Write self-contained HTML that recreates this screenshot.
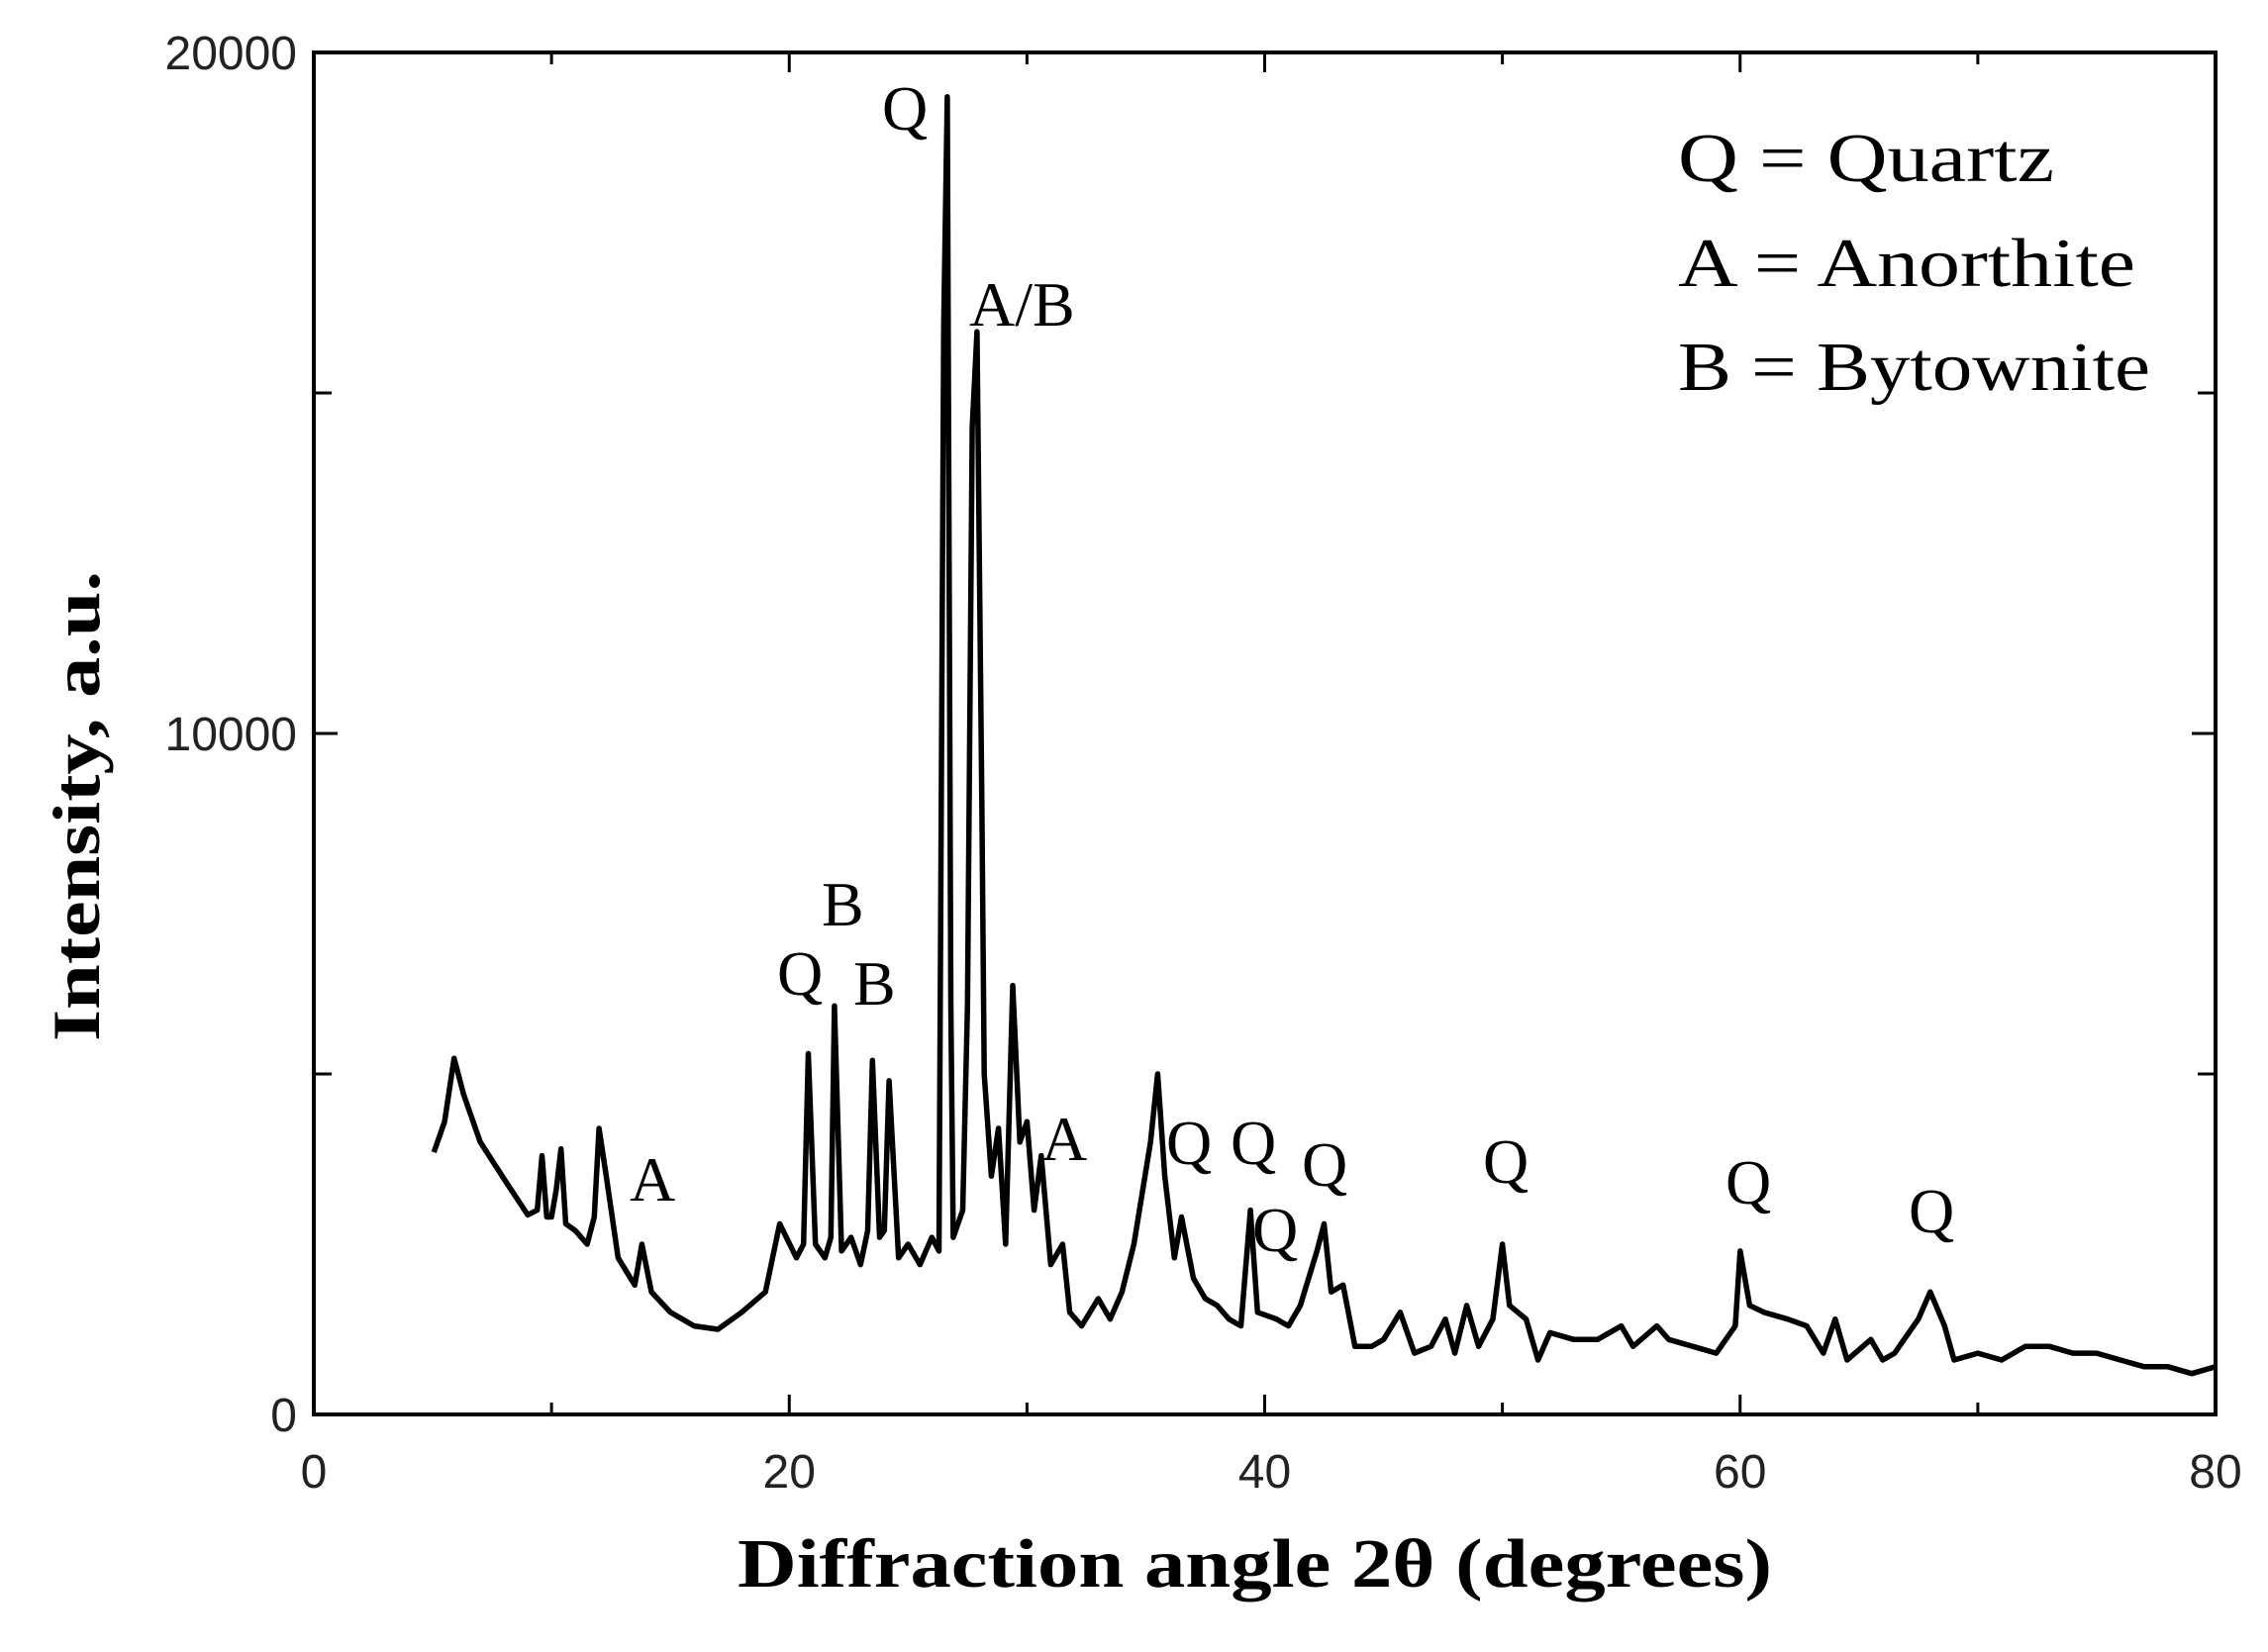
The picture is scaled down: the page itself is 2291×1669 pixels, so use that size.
<!DOCTYPE html>
<html><head><meta charset="utf-8"><style>
html,body{margin:0;padding:0;background:#fff;}
svg{display:block;}
</style></head><body>
<svg id="chart" width="2291" height="1669" xmlns="http://www.w3.org/2000/svg"></svg>
<script>
const angles=[5.05,5.5,5.9,6.3,7,8,9,9.4,9.6,9.8,10,10.2,10.4,10.6,11,11.5,11.8,12,12.3,12.8,13.5,13.8,14.2,15,16,17,18,19,19.6,20.3,20.6,20.8,21.1,21.5,21.75,21.9,22.2,22.6,23,23.3,23.5,23.8,24.0,24.2,24.6,25,25.5,26.0,26.3,26.5,26.65,26.8,26.9,27.3,27.5,27.7,27.9,28.1,28.2,28.5,28.8,29.1,29.4,29.7,30,30.3,30.6,31,31.5,31.8,32.3,33,33.5,34,34.5,35.2,35.5,35.8,36.2,36.5,37,37.5,38,38.5,39,39.4,39.7,40.5,41,41.5,42.2,42.5,42.8,43.3,43.8,44.5,45,45.7,46.3,47,47.6,48,48.5,49,49.6,50,50.3,51,51.5,52,53,54,55,55.5,56.5,57,58,59,59.8,60,60.4,61,62,62.8,63.5,64,64.5,65.5,66,66.5,67.5,68,68.6,69,70,71,72,73,74,75,76,77,78,79,80];
const intens=[3850,4300,5230,4700,4000,3460,2930,3000,3800,2900,2900,3300,3900,2800,2700,2500,2900,4200,3500,2300,1900,2500,1800,1500,1300,1250,1500,1800,2800,2300,2500,5300,2500,2300,2600,6000,2400,2600,2200,2700,5200,2600,2700,4900,2300,2500,2200,2600,2400,16000,19350,6000,2600,3000,6000,14500,15900,9000,5000,3500,4200,2500,6300,4000,4300,3000,3800,2200,2500,1500,1300,1700,1400,1800,2500,4000,5000,3500,2300,2900,2000,1700,1600,1400,1300,3000,1500,1400,1300,1600,2400,2800,1800,1900,1000,1000,1100,1500,900,1000,1400,900,1600,1000,1400,2500,1600,1400,800,1200,1100,1100,1300,1000,1300,1100,1000,900,1300,2400,1600,1500,1400,1300,900,1400,800,1100,800,900,1400,1800,1300,800,900,800,1000,1000,900,900,800,700,700,600,700];
const xTicks=[0,20,40,60,80];
const yTicks=[0,10000,20000];
const peakLabels=["Q","A/B","B","Q","B","A","A","Q","Q","Q","Q","Q","Q","Q"];
const peakLabelPos=[[891,131],[979,329],[830,935],[785,1005],[862,1015],[636,1213],[1052,1172],[1178,1176],[1243,1176],[1315,1198],[1265,1264],[1498,1195],[1743,1216],[1928,1245]];

const svg=document.getElementById('chart');
const NS='http://www.w3.org/2000/svg';
const L=317,R=2238,T=53,B=1429;
const xs=v=>L+(v/80)*(R-L);
const ys=v=>B-(v/20000)*(B-T);
function mk(tag,attrs){const e=document.createElementNS(NS,tag);for(const k in attrs)e.setAttribute(k,attrs[k]);svg.appendChild(e);return e;}

const fr=mk('rect',{x:L,y:T,width:R-L,height:B-T,fill:'none',stroke:'#000','stroke-width':4});


for(let v=0;v<=80;v+=10){
  const len=v%20===0?20:12;
  const t1=mk('line',{x1:xs(v),x2:xs(v),y1:B,y2:B-len,stroke:'#000','stroke-width':3});
  
  
  const t2=mk('line',{x1:xs(v),x2:xs(v),y1:T,y2:T+len,stroke:'#000','stroke-width':3});
  
  
}
for(let v=0;v<=20000;v+=5000){
  const len=v%10000===0?24:18;
  const t1=mk('line',{x1:L,x2:L+len,y1:ys(v),y2:ys(v),stroke:'#000','stroke-width':3});
  
  
  const t2=mk('line',{x1:R,x2:R-len,y1:ys(v),y2:ys(v),stroke:'#000','stroke-width':3});
  
  
}
xTicks.forEach(v=>{
  const t=mk('text',{x:xs(v),y:1503,'text-anchor':'middle','font-family':'Liberation Sans Narrow, Liberation Sans, sans-serif','font-size':48,fill:'#222'});
  t.textContent=v;
  
  
});
yTicks.forEach(v=>{
  const t=mk('text',{x:300,y:ys(v)+17,'text-anchor':'end','font-family':'Liberation Sans Narrow, Liberation Sans, sans-serif','font-size':48,fill:'#222'});
  t.textContent=v;
  
  
});
const d=angles.map((a,i)=>(i?'L':'M')+xs(a).toFixed(1)+' '+ys(intens[i]).toFixed(1)).join(' ');
const p=mk('path',{d:d,fill:'none',stroke:'#000','stroke-width':5.5,'stroke-linejoin':'round'});


peakLabels.forEach((s,i)=>{
  const t=mk('text',{x:peakLabelPos[i][0],y:peakLabelPos[i][1],'font-family':'Liberation Serif, serif','font-size':64,fill:'#000'});
  t.textContent=s;
  
  
});
[['Q = Quartz',183,380],['A = Anorthite',289,462],['B = Bytownite',394,477]].forEach(([s,y,w])=>{
  const t=mk('text',{x:1695,y:y,'font-family':'Liberation Serif, serif','font-size':70,fill:'#000',textLength:w,lengthAdjust:'spacingAndGlyphs'});
  t.textContent=s;
  
  
});
const xt=mk('text',{x:745,y:1603,'font-family':'Liberation Serif, serif','font-size':70,'font-weight':'bold',fill:'#000',textLength:1045,lengthAdjust:'spacingAndGlyphs'});
xt.textContent='Diffraction angle 2θ (degrees)';


const yt=mk('text',{x:-237,y:0,'font-family':'Liberation Serif, serif','font-size':68,'font-weight':'bold',fill:'#000',textLength:475,lengthAdjust:'spacingAndGlyphs',transform:'translate(100,815) rotate(-90)'});
yt.textContent='Intensity, a.u.';


</script>
</body></html>
